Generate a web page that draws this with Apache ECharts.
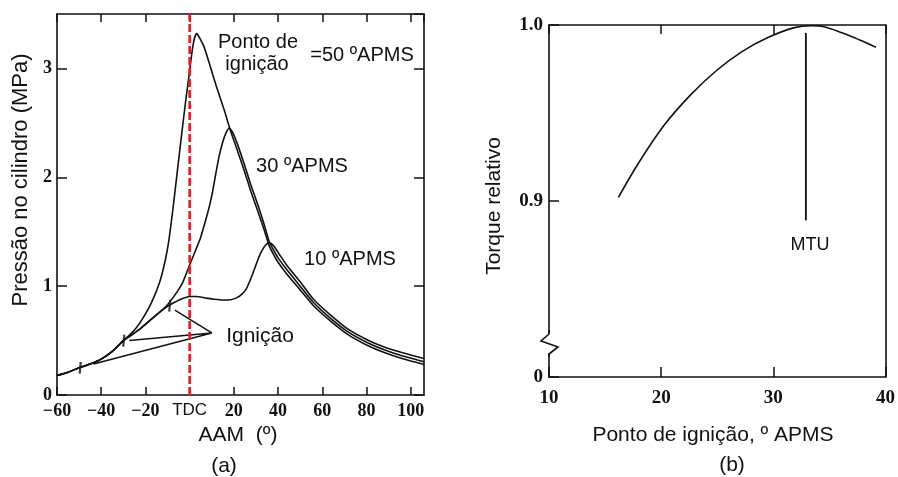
<!DOCTYPE html>
<html><head><meta charset="utf-8">
<script src="https://cdn.jsdelivr.net/npm/echarts@6/dist/echarts.min.js"></script>
<style>html,body{margin:0;padding:0;background:#fff}#c{width:898px;height:477px}</style>
</head><body><div id="c"></div>
<script>
// ---- (a) Pressão no cilindro vs AAM ----
const compressao = [[-60,0.18],[-55,0.21],[-50,0.25],[-45,0.285],[-40,0.33],[-35,0.40],[-30,0.50]];
const compressaoBaixa = [[-26,0.555],[-22,0.615],[-17.7,0.69],[-13,0.77]];
const curva50 = [[-27,0.555],[-24,0.62],[-21,0.71],[-17,0.86],[-13.5,1.04],[-11,1.24],[-9.4,1.42],[-7.5,1.72],[-5.6,2.05],[-3.7,2.38],[-1.8,2.70],[0,2.98],[1.2,3.17],[2.2,3.28],[3.2,3.32],[4.5,3.28],[6.5,3.20],[9,3.04],[12,2.84],[15.6,2.62],[18.6,2.42],[21.7,2.24],[24.7,2.06],[27.7,1.87],[30.8,1.69],[33.5,1.53],[36,1.37],[38,1.29]];
const cauda50 = [[40,1.22],[44,1.11],[50,0.965],[56,0.82],[64,0.675],[72,0.55],[80,0.46],[88,0.39],[96,0.335],[106,0.28]];
const curva30 = [[-10,0.83],[-5.6,0.95],[-3,1.04],[-0.3,1.18],[2.5,1.32],[5,1.45],[7.3,1.61],[9,1.74],[10.3,1.86],[11.8,2.03],[13.3,2.19],[14.9,2.32],[16.5,2.41],[17.9,2.45],[19.5,2.41],[21.7,2.30],[24.7,2.12],[27.7,1.93],[30.8,1.75],[33.5,1.58],[36,1.41],[38,1.33]];
const cauda30 = [[40,1.26],[44,1.15],[50,1.00],[56,0.85],[64,0.70],[72,0.575],[80,0.485],[88,0.415],[96,0.36],[106,0.305]];
const curva10 = [[-10,0.815],[-7,0.85],[-4,0.88],[0,0.905],[3,0.905],[7.3,0.89],[11,0.88],[14.8,0.873],[18.6,0.875],[21,0.89],[23,0.915],[25.5,0.97],[27.5,1.06],[29.2,1.15],[31,1.25],[32.5,1.32],[34.5,1.38],[36,1.40],[38,1.37]];
const cauda10 = [[40,1.31],[44,1.19],[50,1.04],[56,0.88],[64,0.73],[72,0.60],[80,0.51],[88,0.44],[96,0.39],[106,0.335]];
const linhasIgnicao = [[-6.7,0.78],[10,0.57],[-27.3,0.50],[10,0.57],[-43.5,0.285]];
const marcasIgnicao = [[-49.5,0.25],[-29.8,0.50],[-9,0.82]];
const linhaTDC = [[0,0],[0,3.5]];

// ---- (b) Torque relativo vs ponto de ignição ----
const pontoIgnicao = [16.19,17.93,20.26,22.58,24.91,27.24,29.56,31.88,33.34,34.5,36.24,37.7,39.15];
const torqueRelativo = [0.902,0.921,0.943,0.960,0.974,0.985,0.993,0.9985,0.9996,0.999,0.9953,0.9915,0.9874];
const linhaMTU = [[32.9,0.9955],[32.9,0.889]];
const ticksTorque = ['0','0.9','1.0'];

const INK = '#111';
const serifB = {fontFamily:'Liberation Serif', fontWeight:'bold', color:INK};
const SANS = 'Liberation Sans';
const lw = 1.6;

function lineSeries(data, extra){
  return Object.assign({type:'line', data, showSymbol:false, symbol:'none', smooth:0.2,
    lineStyle:{color:INK, width:lw}, xAxisIndex:0, yAxisIndex:0, z:3, silent:true}, extra||{});
}

const s50 = compressao.concat(curva50, cauda50);
const s30 = compressao.concat(compressaoBaixa, curva30, cauda30);
const s10 = compressao.concat(compressaoBaixa, curva10, cauda10);
const torqueData = pontoIgnicao.map((x,i)=>[x, torqueRelativo[i]]);

const chart = echarts.init(document.getElementById('c'), null, {renderer:'canvas'});

const axLine = {show:true, onZero:false, lineStyle:{color:INK, width:1.6}};
const tick = (len)=>({inside:true, length:len, lineStyle:{color:INK, width:1.5}});
const option = {
  animation:false,
  backgroundColor:'#fff',
  grid:[
    {left:57, right:474, top:14, bottom:82},
    {left:549, right:5, top:25, bottom:100}
  ],
  xAxis:[
    {gridIndex:0, type:'value', min:-60, max:106, interval:20, position:'bottom',
      axisLine:axLine, splitLine:{show:false}, axisTick:tick(8),
      axisLabel:Object.assign({fontSize:18, margin:7, showMaxLabel:false,
        formatter:v=> v===0 ? '{t|TDC}' : (v<0 ? '\u2212'+(-v) : ''+v),
        rich:{t:{fontFamily:SANS, fontWeight:'normal', fontSize:17, color:INK}}}, serifB)},
    {gridIndex:0, type:'value', min:-60, max:106, interval:20, position:'top',
      axisLine:axLine, splitLine:{show:false}, axisTick:tick(8), axisLabel:{show:false}},
    {gridIndex:1, type:'value', min:10, max:40, interval:10, position:'bottom',
      axisLine:axLine, splitLine:{show:false}, axisTick:tick(10),
      axisLabel:Object.assign({fontSize:19, margin:12}, serifB)},
    {gridIndex:1, type:'value', min:10, max:40, interval:10, position:'top',
      axisLine:axLine, splitLine:{show:false}, axisTick:tick(9), axisLabel:{show:false}}
  ],
  yAxis:[
    {gridIndex:0, type:'value', min:0, max:3.5, interval:1, position:'left',
      axisLine:axLine, splitLine:{show:false}, axisTick:tick(10),
      axisLabel:Object.assign({fontSize:18, margin:5, showMaxLabel:false}, serifB)},
    {gridIndex:0, type:'value', min:0, max:3.5, interval:1, position:'right',
      axisLine:axLine, splitLine:{show:false}, axisTick:tick(10), axisLabel:{show:false}},
    {gridIndex:1, type:'value', min:0.8, max:1.0, interval:0.1, position:'left',
      axisLine:axLine, splitLine:{show:false}, axisTick:tick(10),
      axisLabel:Object.assign({fontSize:19, margin:6,
        formatter:v=> Math.abs(v-0.8)<1e-6 ? ticksTorque[0] : (Math.abs(v-0.9)<1e-6 ? ticksTorque[1] : ticksTorque[2])}, serifB)},
    {gridIndex:1, type:'value', min:0.8, max:1.0, interval:0.1, position:'right',
      axisLine:axLine, splitLine:{show:false}, axisTick:{show:false}, axisLabel:{show:false}}
  ],
  series:[
    lineSeries(s10),
    lineSeries(s30),
    lineSeries(s50),
    lineSeries(linhasIgnicao, {smooth:false, lineStyle:{color:INK, width:1.4}}),
    {type:'scatter', data:marcasIgnicao, xAxisIndex:0, yAxisIndex:0, symbol:'rect',
      symbolSize:[2.2,12], symbolRotate:-5, itemStyle:{color:INK}, silent:true, z:4},
    lineSeries(linhaTDC, {smooth:false, z:6, lineStyle:{color:'#d3222b', width:2.6, type:[8,3]}}),
    {type:'line', data:torqueData, xAxisIndex:2, yAxisIndex:2, showSymbol:false, symbol:'none',
      smooth:0.35, lineStyle:{color:INK, width:lw}, silent:true},
    {type:'line', data:linhaMTU, xAxisIndex:2, yAxisIndex:2, showSymbol:false, symbol:'none',
      lineStyle:{color:INK, width:1.8}, silent:true}
  ],
  graphic:[
    {type:'text', x:258, y:42, style:{text:'Ponto de', fontSize:20, fontFamily:SANS, fill:INK, align:'center', verticalAlign:'middle'}},
    {type:'text', x:257, y:64, style:{text:'ignição', fontSize:20, fontFamily:SANS, fill:INK, align:'center', verticalAlign:'middle'}},
    {type:'text', x:362, y:55, style:{text:'=50 ºAPMS', fontSize:20, fontFamily:SANS, fill:INK, align:'center', verticalAlign:'middle'}},
    {type:'text', x:302, y:166, style:{text:'30 ºAPMS', fontSize:20, fontFamily:SANS, fill:INK, align:'center', verticalAlign:'middle'}},
    {type:'text', x:350, y:259, style:{text:'10 ºAPMS', fontSize:20, fontFamily:SANS, fill:INK, align:'center', verticalAlign:'middle'}},
    {type:'text', x:260, y:336, style:{text:'Ignição', fontSize:21, fontFamily:SANS, fill:INK, align:'center', verticalAlign:'middle'}},
    {type:'text', x:238, y:435, style:{text:'AAM  (º)', fontSize:21, fontFamily:SANS, fill:INK, align:'center', verticalAlign:'middle'}},
    {type:'text', x:224, y:466, style:{text:'(a)', fontSize:21, fontFamily:SANS, fill:INK, align:'center', verticalAlign:'middle'}},
    {type:'text', x:21, y:180, rotation:Math.PI/2, style:{text:'Pressão no cilindro (MPa)', fontSize:22, fontFamily:SANS, fill:INK, align:'center', verticalAlign:'middle'}},
    {type:'text', x:494, y:206, rotation:Math.PI/2, style:{text:'Torque relativo', fontSize:21, fontFamily:SANS, fill:INK, align:'center', verticalAlign:'middle'}},
    {type:'text', x:713, y:435, style:{text:'Ponto de ignição, º APMS', fontSize:21, fontFamily:SANS, fill:INK, align:'center', verticalAlign:'middle'}},
    {type:'text', x:732, y:465, style:{text:'(b)', fontSize:21, fontFamily:SANS, fill:INK, align:'center', verticalAlign:'middle'}},
    {type:'text', x:810, y:245, style:{text:'MTU', fontSize:18, fontFamily:SANS, fill:INK, align:'center', verticalAlign:'middle'}},
    {type:'rect', shape:{x:546, y:333, width:6, height:21}, style:{fill:'#fff'}, z:100},
    {type:'polyline', shape:{points:[[549,330],[549,334],[541,341],[558,347],[549,354],[549,357]]}, style:{stroke:INK, lineWidth:1.6, fill:null}, z:101}
  ]
};
chart.setOption(option);
</script>
</body></html>
